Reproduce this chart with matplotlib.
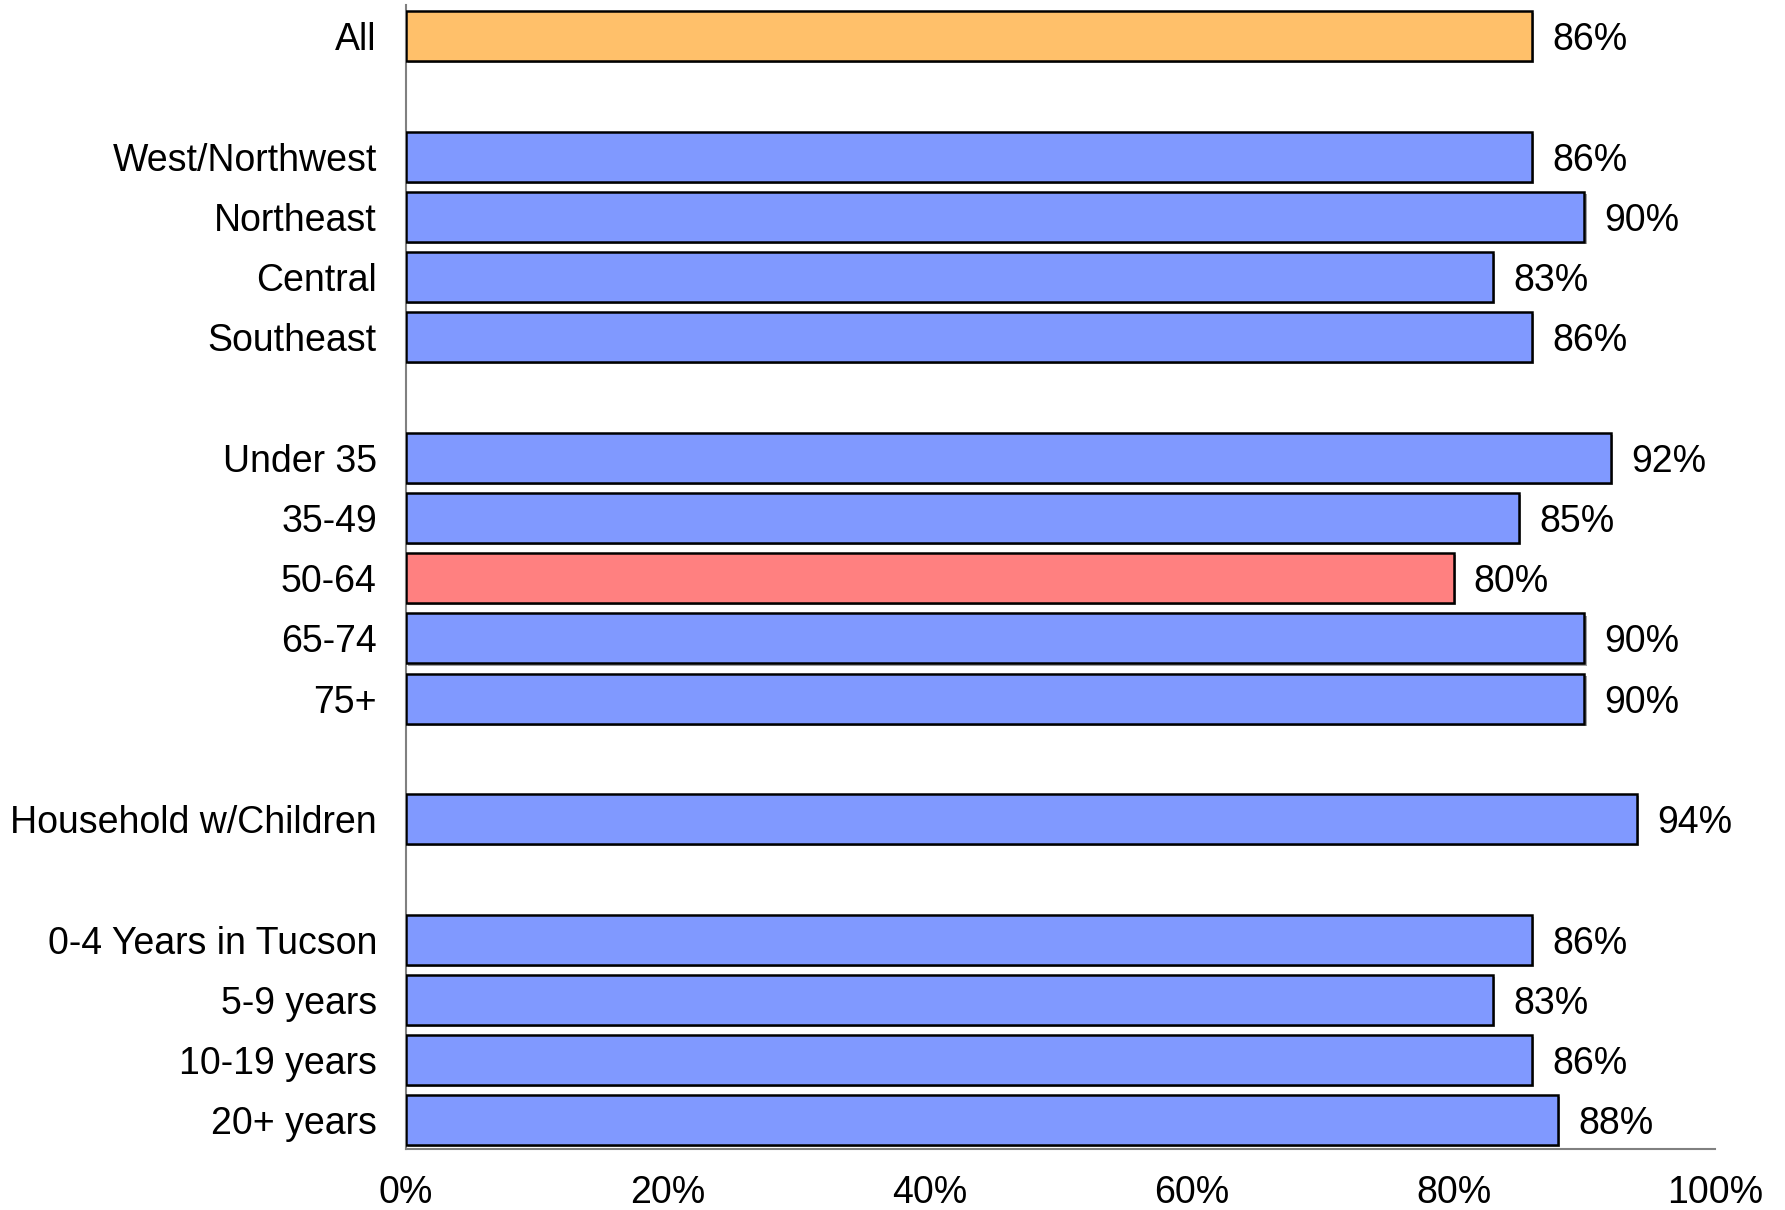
import matplotlib
matplotlib.use("Agg")
import matplotlib.pyplot as plt
import matplotlib.patheffects as pe
from matplotlib.ticker import FuncFormatter

plt.rcParams['font.family'] = ['Liberation Sans', 'DejaVu Sans']

categories = ["All", "West/Northwest", "Northeast", "Central", "Southeast",
              "Under 35", "35-49", "50-64", "65-74", "75+",
              "Household w/Children",
              "0-4 Years in Tucson", "5-9 years", "10-19 years", "20+ years"]
values = [86, 86, 90, 83, 86, 92, 85, 80, 90, 90, 94, 86, 83, 86, 88]
# row slots (empty slots separate the groups)
slots = [0, 2, 3, 4, 5, 7, 8, 9, 10, 11, 13, 15, 16, 17, 18]
colors = ["#FFC06A"] + ["#8099FF"] * 6 + ["#FF8080"] + ["#8099FF"] * 7
xticks = [0, 20, 40, 60, 80, 100]

fig = plt.figure(figsize=(17.85, 12.10), dpi=100)
ax = fig.add_axes([0.2275, 0.0507, 0.961 - 0.2275, 0.996 - 0.0507])

bars = ax.barh(slots, values, height=0.83, color=colors, edgecolor="black",
               linewidth=1.8, zorder=3)
for b in bars:
    b.set_path_effects([pe.SimplePatchShadow(offset=(1.5, -1.5), shadow_rgbFace="#888888", alpha=0.8),
                        pe.Normal()])

for s, v in zip(slots, values):
    ax.annotate(f"{v}%", xy=(v, s), xytext=(14.5, 0), textcoords="offset points",
                ha="left", va="center_baseline", fontsize=27, color="black")

ax.set_xlim(0, 100)
ax.set_ylim(18.47, -0.52)
ax.set_xticks(xticks)
ax.xaxis.set_major_formatter(FuncFormatter(lambda x, p: f"{int(x)}%"))
ax.set_yticks(slots)
ax.set_yticklabels(categories, va="center_baseline")
ax.tick_params(axis="y", length=0, pad=21, labelsize=27)
ax.tick_params(axis="x", length=0, pad=19, labelsize=27)
for side in ["top", "right"]:
    ax.spines[side].set_visible(False)
for side in ["left", "bottom"]:
    ax.spines[side].set_color("#808080")
    ax.spines[side].set_linewidth(1.5)

fig.savefig("out.png", dpi=100)
